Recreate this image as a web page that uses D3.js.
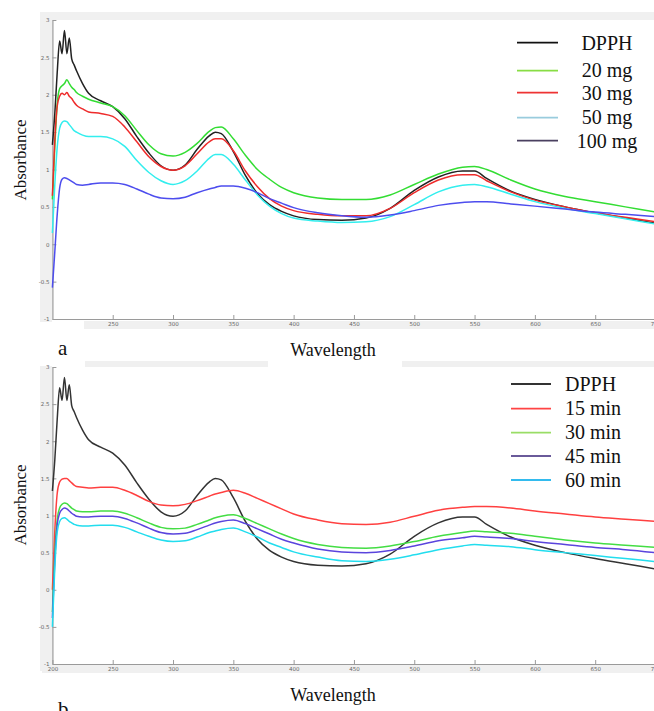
<!DOCTYPE html>
<html><head><meta charset="utf-8">
<script src="https://cdn.jsdelivr.net/npm/d3@7"></script>
<style>
html,body{margin:0;padding:0;background:#fff;}
svg{display:block;}
</style></head>
<body>
<svg id="chart" width="654" height="711"></svg>
<script>
// ---------- DATA ----------
const wavelengths = [200,202,204,206,208,210,212,214,216,218,220,225,230,240,250,260,270,280,290,300,310,320,330,335,340,350,360,370,380,390,400,420,440,460,480,500,520,540,550,560,580,600,625,650,675,700];

const dpph = [1.33,1.75,2.30,2.72,2.55,2.86,2.55,2.76,2.48,2.40,2.32,2.15,2.02,1.92,1.84,1.68,1.44,1.22,1.05,0.99,1.06,1.27,1.45,1.50,1.48,1.24,0.92,0.68,0.53,0.44,0.38,0.33,0.32,0.35,0.48,0.72,0.90,0.98,0.98,0.88,0.71,0.60,0.50,0.42,0.35,0.28];

// panel a : dose
const mg20 = [0.60,1.30,1.88,2.08,2.12,2.15,2.20,2.15,2.10,2.07,2.03,1.98,1.94,1.89,1.84,1.72,1.52,1.33,1.21,1.18,1.23,1.35,1.51,1.56,1.57,1.41,1.19,1.00,0.87,0.76,0.69,0.62,0.60,0.60,0.66,0.80,0.94,1.03,1.04,1.00,0.86,0.74,0.64,0.57,0.50,0.43];
const mg30 = [0.65,1.40,1.85,1.98,2.02,2.00,2.03,1.98,1.95,1.90,1.86,1.81,1.77,1.75,1.71,1.57,1.37,1.17,1.04,0.99,1.05,1.21,1.37,1.41,1.41,1.25,0.98,0.77,0.61,0.51,0.45,0.40,0.38,0.38,0.48,0.69,0.86,0.93,0.93,0.85,0.70,0.59,0.50,0.42,0.36,0.30];
const mg50 = [0.15,0.80,1.30,1.55,1.63,1.65,1.64,1.60,1.56,1.52,1.50,1.46,1.44,1.44,1.41,1.31,1.12,0.96,0.85,0.80,0.85,0.98,1.15,1.20,1.20,1.07,0.86,0.66,0.51,0.41,0.35,0.31,0.29,0.30,0.37,0.53,0.70,0.79,0.80,0.77,0.67,0.57,0.48,0.41,0.34,0.27];
const mg100 = [-0.58,-0.10,0.40,0.75,0.87,0.89,0.88,0.86,0.84,0.82,0.80,0.79,0.80,0.82,0.82,0.80,0.74,0.67,0.62,0.61,0.63,0.69,0.74,0.76,0.78,0.78,0.75,0.69,0.61,0.55,0.49,0.42,0.38,0.36,0.39,0.45,0.52,0.56,0.57,0.57,0.54,0.51,0.47,0.43,0.40,0.37];

// panel b : time
const min15 = [0.00,0.80,1.30,1.45,1.49,1.50,1.50,1.47,1.44,1.41,1.39,1.38,1.37,1.38,1.38,1.34,1.27,1.19,1.14,1.13,1.15,1.20,1.26,1.29,1.31,1.34,1.30,1.23,1.16,1.09,1.02,0.94,0.89,0.88,0.91,0.99,1.07,1.11,1.12,1.12,1.10,1.06,1.02,0.98,0.95,0.92];
const min30 = [-0.30,0.50,0.95,1.10,1.15,1.17,1.16,1.13,1.10,1.08,1.06,1.05,1.05,1.06,1.06,1.03,0.97,0.90,0.84,0.82,0.83,0.88,0.94,0.97,0.99,1.01,0.96,0.89,0.82,0.75,0.69,0.61,0.57,0.56,0.59,0.65,0.72,0.77,0.79,0.78,0.76,0.72,0.67,0.63,0.60,0.57];
const min45 = [-0.38,0.40,0.88,1.03,1.08,1.10,1.09,1.06,1.03,1.01,0.99,0.98,0.98,0.99,0.99,0.96,0.90,0.83,0.77,0.75,0.76,0.81,0.87,0.90,0.92,0.94,0.89,0.82,0.75,0.68,0.63,0.55,0.51,0.50,0.53,0.59,0.66,0.70,0.72,0.71,0.69,0.65,0.61,0.57,0.54,0.50];
const min60 = [-0.50,0.30,0.78,0.92,0.96,0.97,0.95,0.92,0.90,0.88,0.87,0.86,0.86,0.87,0.87,0.84,0.78,0.72,0.67,0.65,0.66,0.71,0.77,0.79,0.81,0.83,0.78,0.71,0.63,0.57,0.51,0.44,0.39,0.38,0.41,0.47,0.54,0.59,0.61,0.60,0.58,0.54,0.50,0.46,0.42,0.38];

const yTicks = [-1,-0.5,0,0.5,1,1.5,2,2.5,3];
const xTicksA = [250,300,350,400,450,500,550,600,650,700];
const xTicksB = [200,250,300,350,400,450,500,550,600,650,700];

const labelsA = ["DPPH","20 mg","30 mg","50 mg","100 mg"];
const labelsB = ["DPPH","15 min","30 min","45 min","60 min"];

// ---------- DRAW ----------
const svg = d3.select("#chart");
const SERIF = '"Liberation Serif", serif';
const gray = "#f0f0f0";

const x = d3.scaleLinear().domain([200,700]).range([52.4,655.5]);

function panel(cfg){
  const y = d3.scaleLinear().domain([-1,3]).range([cfg.yBottom, cfg.yTop]);
  const g = svg.append("g");
  cfg.grays.forEach(r => g.append("rect").attr("x",r[0]).attr("y",r[1]).attr("width",r[2]).attr("height",r[3]).attr("fill",gray));

  const yAxis = d3.axisLeft(y).tickValues(yTicks).tickSizeInner(-4).tickSizeOuter(0).tickPadding(3).tickFormat(d=>String(d));
  const ya = g.append("g").attr("transform",`translate(${x(200)},0)`).call(yAxis);
  const xAxis = d3.axisBottom(x).tickValues(cfg.xTicks).tickSizeInner(-4).tickSizeOuter(0).tickPadding(3).tickFormat(d=>String(d));
  const xa = g.append("g").attr("transform",`translate(0,${cfg.yBottom})`).call(xAxis);
  [ya,xa].forEach(a=>{
    a.select(".domain").attr("stroke","#9a9a9a").attr("stroke-width",1.2);
    a.selectAll(".tick line").attr("stroke","#9a9a9a");
    a.selectAll(".tick text").attr("fill","#666").style("font-size","5.5px").style("font-family",'"DejaVu Sans", sans-serif');
  });

  const line = d3.line().x((d,i)=>x(wavelengths[i])).y(d=>y(d)).curve(d3.curveMonotoneX);
  cfg.series.forEach(s=>{
    g.append("path").datum(s.values).attr("d",line).attr("fill","none")
     .attr("stroke",s.color).attr("stroke-width",1.5).attr("stroke-linejoin","round");
  });

  g.append("text").attr("transform",`translate(26,${cfg.absY}) rotate(-90)`)
    .attr("text-anchor","middle").style("font-family",SERIF).style("font-size","17px").attr("fill","#111").text("Absorbance");
  g.append("text").attr("x",333).attr("y",cfg.wlY).attr("text-anchor","middle")
    .style("font-family",SERIF).style("font-size","18px").attr("fill","#111").text("Wavelength");
  g.append("text").attr("x",58).attr("y",cfg.letterY).style("font-family",SERIF).style("font-size","21px").attr("fill","#111").text(cfg.letter);

  cfg.legend.forEach((l,i)=>{
    g.append("line").attr("x1",cfg.legX1).attr("x2",cfg.legX2).attr("y1",cfg.legLineY[i]).attr("y2",cfg.legLineY[i])
     .attr("stroke",l.color).attr("stroke-width",1.8);
    g.append("text").attr("x",cfg.legTextX).attr("y",cfg.legTextY[i]).attr("text-anchor",cfg.legAnchor)
     .style("font-family",SERIF).style("font-size","20px").attr("fill","#111").text(l.label);
  });
}

panel({
  yTop:20, yBottom:319, xTicks:xTicksA, absY:160, wlY:356, letter:"a", letterY:355,
  grays:[[42,12,612,8],[40,12,12,310],[84,321,570,8]],
  series:[
    {values:dpph,color:"#222222"},
    {values:mg20,color:"#33dd33"},
    {values:mg30,color:"#ee2b2b"},
    {values:mg50,color:"#33eeee"},
    {values:mg100,color:"#4d4dee"}
  ],
  legend:[
    {label:labelsA[0],color:"#111111"},
    {label:labelsA[1],color:"#88dd44"},
    {label:labelsA[2],color:"#ee3333"},
    {label:labelsA[3],color:"#99ccdd"},
    {label:labelsA[4],color:"#4a4060"}
  ],
  legX1:517, legX2:558, legLineY:[42.7,70.7,92.7,117.7,140.7],
  legTextX:607, legAnchor:"middle", legTextY:[50,76.5,100,124,147.5]
});

panel({
  yTop:367, yBottom:664, xTicks:xTicksB, absY:505, wlY:701, letter:"b", letterY:716,
  grays:[[85,361,183,6],[402,361,252,6],[40,366,12,305],[42,665,612,8]],
  series:[
    {values:dpph,color:"#333333"},
    {values:min15,color:"#ff4040"},
    {values:min30,color:"#44dd44"},
    {values:min45,color:"#5a44dd"},
    {values:min60,color:"#22ddee"}
  ],
  legend:[
    {label:labelsB[0],color:"#333333"},
    {label:labelsB[1],color:"#ff4444"},
    {label:labelsB[2],color:"#99dd66"},
    {label:labelsB[3],color:"#6a5a9a"},
    {label:labelsB[4],color:"#33bbee"}
  ],
  legX1:511, legX2:551, legLineY:[384,408.7,432.7,456,480],
  legTextX:565, legAnchor:"start", legTextY:[391,415,438.5,462.5,487]
});
</script>
</body></html>
